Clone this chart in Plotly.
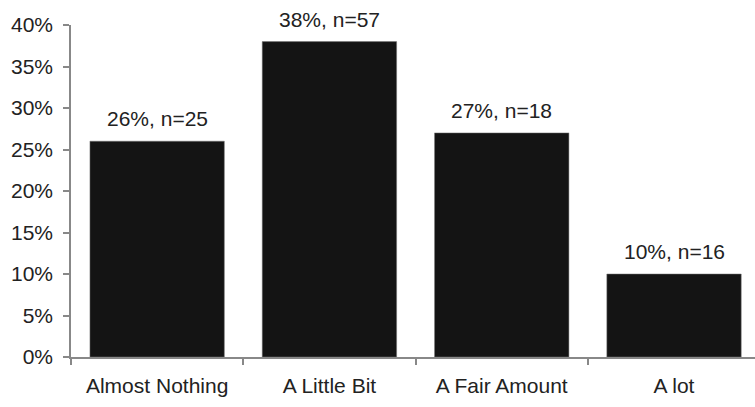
import plotly.graph_objects as go

categories = ["Almost Nothing", "A Little Bit", "A Fair Amount", "A lot"]
percent = [26, 38, 27, 10]
counts = [25, 57, 18, 16]

values = [p / 100 for p in percent]
labels = [f"{p}%, n={n}" for p, n in zip(percent, counts)]

font = dict(family="Liberation Sans, Arial, sans-serif", size=21, color="#222222")

fig = go.Figure(
    go.Bar(
        x=categories,
        y=values,
        marker=dict(color="#141414", line=dict(color="#777777", width=0.5)),
        width=0.78,
        hoverinfo="skip",
    )
)

for c, v, t in zip(categories, values, labels):
    fig.add_annotation(
        x=c, y=v, text=t, showarrow=False, yanchor="bottom", yshift=9,
        font=font,
    )

fig.update_layout(
    width=755,
    height=407,
    margin=dict(l=71, r=0, t=25, b=50),
    plot_bgcolor="white",
    paper_bgcolor="white",
    font=font,
    showlegend=False,
)
fig.update_xaxes(
    range=[-0.5, 3.47],
    showline=True,
    linecolor="#888888",
    linewidth=1.5,
    ticks="outside",
    tickson="boundaries",
    ticklen=6,
    tickcolor="#888888",
    tickwidth=1.5,
    showgrid=False,
    tickfont=font,
    ticklabelstandoff=9,
)
fig.update_yaxes(
    range=[0, 0.40],
    tickvals=[i / 100 for i in range(0, 41, 5)],
    tickformat=".0%",
    showline=True,
    linecolor="#888888",
    linewidth=1.5,
    ticks="outside",
    ticklen=6,
    tickcolor="#888888",
    tickwidth=1.5,
    showgrid=False,
    zeroline=False,
    tickfont=font,
    ticklabelstandoff=6,
)

fig.write_html("out.html")
